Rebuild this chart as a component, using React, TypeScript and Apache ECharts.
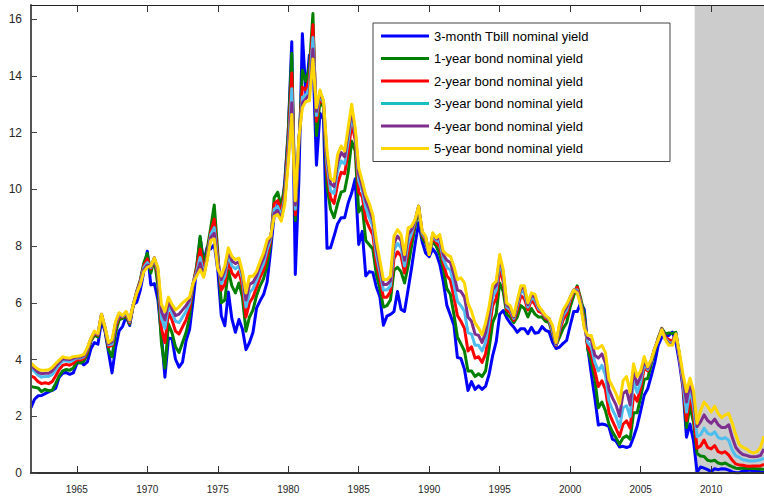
import React, { useEffect, useRef } from "react";
import * as echarts from "echarts";

// Quarterly observations, first point at 1961.75, step one quarter
const START_YEAR = 1961.75;
const STEP = 0.25;
const X_MIN = 1961.75;
const X_MAX = 2013.75;
const ZLB_START = 2008.83;

const seriesNames = [
  "3-month Tbill nominal yield",
  "1-year bond nominal yield",
  "2-year bond nominal yield",
  "3-year bond nominal yield",
  "4-year bond nominal yield",
  "5-year bond nominal yield",
];

const tbill3m = [
  2.30,
  2.60, 2.72, 2.73, 2.80,
  2.86, 2.91, 2.99, 3.38,
  3.52, 3.54, 3.48, 3.53,
  3.85, 3.93, 3.81, 3.92,
  4.38, 4.60, 4.54, 5.36,
  5.00, 4.26, 3.53, 4.42,
  5.01, 5.17, 5.52, 5.20,
  5.94, 6.02, 6.44, 7.09,
  7.82, 6.63, 6.68, 6.12,
  4.87, 3.38, 4.75, 4.74,
  4.01, 3.73, 3.91, 4.66,
  5.07, 6.09, 7.19, 8.29,
  7.45, 7.96, 7.90, 8.06,
  7.15, 5.54, 5.19, 6.38,
  5.44, 4.96, 5.41, 5.08,
  4.35, 4.60, 4.96, 5.81,
  6.07, 6.29, 6.73, 7.85,
  9.08, 9.46, 9.06, 10.26,
  12.04, 15.20, 7.00, 10.27,
  15.49, 13.36, 14.73, 14.70,
  10.85, 12.68, 12.47, 7.92,
  7.94, 8.35, 8.79, 9.00,
  9.00, 9.52, 9.87, 10.37,
  8.06, 8.52, 6.95, 7.10,
  7.07, 6.56, 6.21, 5.21,
  5.53, 5.59, 5.69, 6.40,
  5.77, 5.70, 6.46, 7.24,
  8.07, 8.82, 8.15, 7.75,
  7.63, 7.90, 7.73, 7.36,
  6.74, 5.91, 5.57, 5.22,
  4.07, 4.04, 3.66, 2.91,
  3.22, 2.95, 3.07, 2.95,
  3.06, 3.48, 4.14, 4.62,
  5.60, 5.73, 5.47, 5.28,
  5.14, 4.96, 5.09, 5.09,
  4.91, 5.14, 4.93, 4.95,
  5.16, 5.03, 4.98, 4.61,
  4.39, 4.44, 4.57, 4.68,
  5.20, 5.69, 5.69, 6.00,
  5.77, 4.42, 3.49, 2.64,
  1.69, 1.73, 1.70, 1.63,
  1.19, 1.13, 0.92, 0.94,
  0.90, 0.94, 1.27, 1.65,
  2.19, 2.74, 2.97, 3.42,
  3.89, 4.51, 4.79, 4.81,
  4.85, 4.97, 4.61, 3.89,
  3.00, 1.26, 1.73, 1.13,
  0.03, 0.21, 0.17, 0.12,
  0.05, 0.15, 0.12, 0.15,
  0.14, 0.10, 0.04, 0.01,
  0.01, 0.08, 0.09, 0.10,
  0.07, 0.09, 0.04, 0.02,
];

const bond1y = [
  3.05,
  3.02, 3.00, 2.87, 2.95,
  2.90, 2.92, 3.15, 3.42,
  3.60, 3.65, 3.62, 3.70,
  3.90, 3.88, 3.94, 4.20,
  4.65, 4.85, 4.80, 5.55,
  5.05, 4.35, 4.10, 4.95,
  5.40, 5.45, 5.52, 5.25,
  5.90, 6.40, 6.80, 7.40,
  7.75, 7.05, 7.55, 6.60,
  4.60, 3.70, 5.25, 4.95,
  4.45, 4.25, 4.60, 4.95,
  5.50, 6.65, 7.30, 8.35,
  7.30, 7.90, 8.65, 9.45,
  7.80, 6.00, 6.10, 7.15,
  6.60, 6.35, 6.70, 6.20,
  5.00, 5.50, 5.75, 6.25,
  6.60, 6.85, 7.30, 8.10,
  9.70, 9.90, 9.40, 10.10,
  12.00, 14.80, 8.90, 11.50,
  14.20, 13.80, 14.30, 16.20,
  11.90, 13.10, 12.90, 10.10,
  9.30, 9.00, 9.50, 9.90,
  9.95, 10.60, 11.70, 11.35,
  9.20, 9.40, 8.20, 8.05,
  7.90, 7.00, 6.50, 5.85,
  5.90, 6.10, 7.15, 7.25,
  7.10, 6.70, 7.30, 8.00,
  8.70, 9.35, 8.30, 8.10,
  7.80, 8.15, 8.00, 7.70,
  7.20, 6.50, 6.30, 5.60,
  4.80, 4.55, 4.30, 3.60,
  3.60, 3.40, 3.50, 3.40,
  3.60, 4.40, 5.30, 5.60,
  6.70, 6.40, 5.60, 5.50,
  5.30, 5.50, 5.90, 5.80,
  5.50, 5.80, 5.60, 5.50,
  5.50, 5.35, 5.30, 4.90,
  4.50, 4.80, 5.10, 5.30,
  5.85, 6.25, 6.60, 6.15,
  5.60, 4.35, 3.90, 3.30,
  2.30, 2.50, 2.20, 1.72,
  1.45, 1.24, 1.01, 1.24,
  1.31, 1.19, 2.12, 2.12,
  2.67, 3.30, 3.33, 3.85,
  4.30, 4.77, 5.10, 4.91,
  4.94, 4.92, 4.96, 4.14,
  3.26, 1.60, 2.36, 1.78,
  0.69, 0.60, 0.58, 0.45,
  0.42, 0.45, 0.35, 0.32,
  0.35, 0.28, 0.22, 0.17,
  0.16, 0.18, 0.17, 0.16,
  0.16, 0.15, 0.14, 0.12,
];

const bond2y = [
  3.42,
  3.36, 3.22, 3.15, 3.18,
  3.15, 3.22, 3.42, 3.65,
  3.80, 3.83, 3.80, 3.86,
  4.00, 3.98, 4.04, 4.30,
  4.70, 4.92, 4.86, 5.58,
  5.08, 4.45, 4.50, 5.15,
  5.52, 5.50, 5.60, 5.30,
  5.92, 6.38, 6.75, 7.32,
  7.55, 7.20, 7.58, 6.95,
  5.10, 4.60, 5.65, 5.40,
  5.00, 4.90, 5.15, 5.40,
  5.80, 6.68, 7.20, 7.90,
  7.10, 7.70, 8.50, 8.95,
  7.60, 6.45, 6.65, 7.50,
  7.05, 6.90, 7.10, 6.60,
  5.50, 6.00, 6.20, 6.55,
  6.90, 7.15, 7.65, 8.20,
  9.50, 9.60, 9.20, 9.90,
  11.60, 14.10, 9.10, 11.60,
  13.60, 13.50, 13.90, 15.80,
  12.40, 13.25, 13.00, 10.60,
  9.70, 9.50, 10.20, 10.60,
  10.55, 11.30, 12.30, 11.75,
  9.90, 9.75, 8.95, 8.65,
  8.40, 7.40, 6.85, 6.20,
  6.20, 6.40, 7.55, 7.80,
  7.65, 7.05, 7.80, 8.30,
  8.85, 9.40, 8.40, 8.20,
  7.72, 8.30, 8.12, 7.98,
  7.40, 6.95, 6.80, 6.20,
  5.55, 5.35, 5.10, 4.30,
  4.45, 4.05, 4.10, 3.90,
  4.20, 5.00, 5.90, 6.15,
  7.20, 6.75, 5.75, 5.65,
  5.38, 5.75, 6.25, 6.15,
  5.75, 6.10, 5.95, 5.70,
  5.65, 5.45, 5.40, 4.95,
  4.50, 5.00, 5.40, 5.60,
  6.05, 6.40, 6.55, 6.05,
  5.35, 4.45, 4.20, 3.60,
  3.05, 3.25, 2.95, 2.13,
  1.84, 1.57, 1.28, 1.72,
  1.84, 1.58, 2.76, 2.53,
  3.00, 3.70, 3.60, 3.95,
  4.38, 4.74, 5.08, 4.80,
  4.70, 4.65, 4.90, 4.05,
  3.12, 1.85, 2.73, 2.08,
  0.87, 0.95, 1.16, 0.90,
  0.85, 0.97, 0.75, 0.70,
  0.75, 0.63, 0.45, 0.32,
  0.28, 0.27, 0.25, 0.24,
  0.25, 0.25, 0.25, 0.30,
];

const bond3y = [
  3.70,
  3.58, 3.45, 3.38, 3.40,
  3.40, 3.47, 3.64, 3.82,
  3.95, 3.95, 3.93, 3.98,
  4.06, 4.05, 4.10, 4.36,
  4.73, 4.96, 4.89, 5.59,
  5.11, 4.52, 4.55, 5.25,
  5.58, 5.52, 5.64, 5.34,
  5.93, 6.36, 6.70, 7.24,
  7.42, 7.25, 7.58, 7.10,
  5.45, 5.10, 5.90, 5.65,
  5.35, 5.30, 5.50, 5.70,
  6.00, 6.68, 7.08, 7.60,
  7.00, 7.60, 8.40, 8.65,
  7.45, 6.68, 6.95, 7.70,
  7.30, 7.20, 7.30, 6.85,
  5.85, 6.35, 6.50, 6.78,
  7.10, 7.38, 7.88, 8.27,
  9.30, 9.40, 9.05, 9.72,
  11.30, 13.55, 9.30, 11.70,
  13.25, 13.30, 13.60, 15.35,
  12.60, 13.35, 13.05, 10.90,
  9.95, 9.85, 10.65, 11.00,
  10.90, 11.70, 12.60, 11.95,
  10.30, 9.95, 9.35, 9.00,
  8.70, 7.70, 7.10, 6.45,
  6.45, 6.60, 7.85, 8.10,
  7.95, 7.30, 8.10, 8.45,
  8.90, 9.40, 8.45, 8.27,
  7.70, 8.38, 8.20, 8.15,
  7.55, 7.25, 7.15, 6.65,
  6.05, 5.90, 5.70, 4.95,
  4.90, 4.50, 4.50, 4.30,
  4.60, 5.35, 6.20, 6.45,
  7.45, 6.95, 5.85, 5.75,
  5.45, 5.90, 6.42, 6.35,
  5.85, 6.20, 6.10, 5.80,
  5.70, 5.50, 5.43, 5.00,
  4.52, 5.10, 5.55, 5.75,
  6.15, 6.45, 6.45, 6.00,
  5.25, 4.60, 4.45, 3.90,
  3.60, 3.80, 3.45, 2.55,
  2.23, 1.98, 1.60, 2.30,
  2.37, 1.99, 3.26, 2.83,
  3.20, 3.85, 3.65, 3.96,
  4.39, 4.72, 5.07, 4.75,
  4.60, 4.57, 4.90, 4.10,
  3.20, 2.15, 2.98, 2.36,
  1.28, 1.35, 1.58, 1.40,
  1.35, 1.45, 1.25, 1.20,
  1.25, 1.15, 0.80, 0.60,
  0.55, 0.47, 0.45, 0.42,
  0.42, 0.44, 0.47, 0.52,
];

const bond4y = [
  3.80,
  3.68, 3.55, 3.50, 3.52,
  3.52, 3.60, 3.76, 3.90,
  4.03, 4.01, 4.00, 4.04,
  4.09, 4.09, 4.14, 4.39,
  4.74, 4.98, 4.91, 5.60,
  5.13, 4.56, 4.62, 5.30,
  5.62, 5.54, 5.67, 5.37,
  5.93, 6.35, 6.67, 7.17,
  7.33, 7.28, 7.58, 7.18,
  5.70, 5.40, 6.05, 5.80,
  5.55, 5.60, 5.75, 5.90,
  6.10, 6.68, 7.00, 7.40,
  6.95, 7.55, 8.30, 8.45,
  7.35, 6.82, 7.15, 7.82,
  7.48, 7.38, 7.45, 7.00,
  6.10, 6.65, 6.72, 6.95,
  7.30, 7.58, 8.06, 8.32,
  9.15, 9.25, 8.95, 9.58,
  11.10, 13.05, 9.45, 11.75,
  13.05, 13.20, 13.35, 14.95,
  12.75, 13.42, 13.10, 11.15,
  10.20, 10.10, 10.95, 11.30,
  11.15, 11.95, 12.80, 12.05,
  10.55, 10.10, 9.60, 9.28,
  8.92, 7.95, 7.30, 6.65,
  6.65, 6.78, 8.10, 8.35,
  8.20, 7.50, 8.40, 8.58,
  8.92, 9.41, 8.50, 8.32,
  7.70, 8.43, 8.25, 8.30,
  7.70, 7.50, 7.42, 7.00,
  6.45, 6.40, 6.20, 5.50,
  5.35, 4.90, 4.85, 4.60,
  4.95, 5.62, 6.45, 6.62,
  7.60, 7.07, 5.93, 5.82,
  5.50, 6.00, 6.52, 6.50,
  5.93, 6.28, 6.20, 5.86,
  5.72, 5.52, 5.45, 5.10,
  4.55, 5.20, 5.65, 5.85,
  6.20, 6.45, 6.40, 5.95,
  5.17, 4.75, 4.68, 4.15,
  4.05, 4.20, 3.88, 2.95,
  2.65, 2.40, 2.00, 2.80,
  2.90, 2.40, 3.60, 3.12,
  3.40, 3.98, 3.70, 3.98,
  4.40, 4.71, 5.06, 4.72,
  4.55, 4.52, 4.90, 4.17,
  3.35, 2.50, 3.17, 2.62,
  1.64, 1.80, 2.05, 1.85,
  1.75, 1.90, 1.70, 1.60,
  1.60, 1.70, 1.25, 0.90,
  0.75, 0.65, 0.62, 0.58,
  0.57, 0.58, 0.62, 0.85,
];

const bond5y = [
  3.87,
  3.76, 3.66, 3.62, 3.62,
  3.64, 3.72, 3.86, 3.98,
  4.10, 4.06, 4.05, 4.10,
  4.12, 4.13, 4.18, 4.42,
  4.75, 5.00, 4.92, 5.60,
  5.15, 4.60, 4.70, 5.35,
  5.65, 5.55, 5.70, 5.40,
  5.93, 6.34, 6.64, 7.10,
  7.25, 7.30, 7.58, 7.25,
  5.95, 5.70, 6.20, 5.95,
  5.75, 5.85, 6.00, 6.10,
  6.20, 6.70, 6.94, 7.17,
  6.90, 7.50, 8.20, 8.25,
  7.20, 6.95, 7.30, 7.94,
  7.64, 7.52, 7.58, 7.10,
  6.35, 6.94, 6.94, 7.11,
  7.46, 7.76, 8.23, 8.35,
  9.05, 9.11, 8.88, 9.47,
  10.94, 12.64, 9.60, 11.80,
  12.88, 13.10, 13.12, 14.60,
  12.88, 13.50, 13.12, 11.35,
  10.40, 10.29, 11.23, 11.53,
  11.35, 12.17, 13.00, 12.17,
  10.76, 10.30, 9.80, 9.50,
  9.10, 8.20, 7.50, 6.82,
  6.82, 6.94, 8.35, 8.58,
  8.41, 7.70, 8.64, 8.70,
  8.94, 9.41, 8.52, 8.35,
  7.70, 8.47, 8.29, 8.41,
  7.82, 7.70, 7.64, 7.29,
  6.82, 6.88, 6.70, 5.99,
  5.70, 5.29, 5.11, 4.87,
  5.29, 5.88, 6.64, 6.76,
  7.70, 7.17, 5.99, 5.90,
  5.55, 6.10, 6.60, 6.60,
  6.00, 6.35, 6.30, 5.90,
  5.72, 5.55, 5.45, 5.20,
  4.60, 5.30, 5.75, 5.95,
  6.20, 6.45, 6.35, 5.90,
  5.10, 4.85, 4.85, 4.40,
  4.40, 4.50, 4.25, 3.30,
  3.05, 2.80, 2.45, 3.25,
  3.40, 2.85, 3.85, 3.40,
  3.60, 4.10, 3.75, 4.00,
  4.40, 4.70, 5.05, 4.70,
  4.50, 4.50, 4.90, 4.25,
  3.50, 2.87, 3.34, 2.90,
  1.75, 2.20, 2.50, 2.35,
  2.15, 2.35, 2.10, 1.95,
  2.05, 2.10, 1.75, 1.35,
  1.00, 0.90, 0.85, 0.75,
  0.70, 0.75, 0.90, 1.30,
];

const xTickYears = [1965, 1970, 1975, 1980, 1985, 1990, 1995, 2000, 2005, 2010];
const yTickValues = [0, 2, 4, 6, 8, 10, 12, 14, 16];

const allSeries = [tbill3m, bond1y, bond2y, bond3y, bond4y, bond5y];
const lineColors = ["#0000FF", "#008000", "#FF0000", "#4DBEEE", "#7E2F8E", "#FFD700"];
const legendColors = ["#0000FF", "#008000", "#FF0000", "#17BFBF", "#7E2F8E", "#FFD700"];

const FONT = "'Liberation Sans', Arial, Helvetica, sans-serif";

function toPairs(values: number[]): [number, number][] {
  return values.map((v, i) => [START_YEAR + STEP * i, v]);
}

export default function App() {
  const ref = useRef<HTMLDivElement>(null);

  useEffect(() => {
    if (!ref.current) return;
    const chart = echarts.init(ref.current, null, { renderer: "svg" });

    const lineSeries = allSeries.map((vals, i) => ({
      type: "line",
      name: seriesNames[i],
      data: toPairs(vals),
      showSymbol: false,
      symbol: "none",
      color: lineColors[i],
      itemStyle: { color: lineColors[i] },
      lineStyle: { width: 3, color: lineColors[i], join: "round" },
      z: 3 + i,
      silent: true,
      emphasis: { disabled: true },
    }));

    const option: any = {
      animation: false,
      backgroundColor: "#ffffff",
      grid: { left: 31, right: 0, top: 5, bottom: 24, containLabel: false },
      xAxis: [
        {
          type: "value",
          position: "bottom",
          min: X_MIN,
          max: X_MAX,
          z: 10,
          axisLine: { show: true, onZero: false, lineStyle: { color: "#333333", width: 2 } },
          axisTick: {
            show: true,
            inside: true,
            length: 7,
            customValues: xTickYears,
            lineStyle: { color: "#333333", width: 1 },
          },
          axisLabel: {
            show: true,
            customValues: xTickYears,
            formatter: (v: number) => String(Math.round(v)),
            margin: 11,
            fontSize: 10,
            color: "#262626",
            fontFamily: FONT,
          },
          splitLine: { show: false },
        },
        {
          type: "value",
          position: "top",
          min: X_MIN,
          max: X_MAX,
          z: 10,
          axisLine: { show: true, onZero: false, lineStyle: { color: "#222222", width: 1 } },
          axisTick: {
            show: true,
            inside: true,
            length: 7,
            customValues: xTickYears,
            lineStyle: { color: "#333333", width: 1 },
          },
          axisLabel: { show: false },
          splitLine: { show: false },
        },
      ],
      yAxis: {
        type: "value",
        min: 0,
        max: 16.5,
        z: 10,
        axisLine: { show: true, onZero: false, lineStyle: { color: "#555555", width: 2 } },
        axisTick: {
          show: true,
          inside: true,
          length: 6,
          customValues: yTickValues,
          lineStyle: { color: "#444444", width: 1 },
        },
        axisLabel: {
          show: true,
          customValues: yTickValues,
          formatter: (v: number) => String(v),
          margin: 9,
          fontSize: 12,
          color: "#262626",
          fontFamily: FONT,
        },
        splitLine: { show: false },
      },
      legend: {
        show: true,
        orient: "vertical",
        left: 373,
        top: 23,
        padding: [5, 8, 5, 8],
        itemWidth: 48,
        itemHeight: 3,
        itemGap: 6.5,
        icon: "rect",
        selectedMode: false,
        backgroundColor: "#ffffff",
        borderColor: "#444444",
        borderWidth: 1,
        borderRadius: 0,
        textStyle: {
          fontFamily: FONT,
          fontSize: 13,
          color: "#000000",
          lineHeight: 16,
          width: 228,
          overflow: "truncate",
        },
        data: seriesNames.map((n, i) => ({ name: n, itemStyle: { color: legendColors[i] } })),
        z: 20,
      },
      series: [
        {
          type: "line",
          name: "ZLB period",
          data: [],
          silent: true,
          z: 1,
          markArea: {
            silent: true,
            itemStyle: { color: "#CCCCCC" },
            data: [[{ xAxis: ZLB_START }, { xAxis: X_MAX }]],
          },
        },
        ...lineSeries,
      ],
    };

    chart.setOption(option);
    return () => {
      chart.dispose();
    };
  }, []);

  return (
    <div
      ref={ref}
      style={{ position: "fixed", left: 0, top: 0, width: 764, height: 497, background: "#fff" }}
    />
  );
}
